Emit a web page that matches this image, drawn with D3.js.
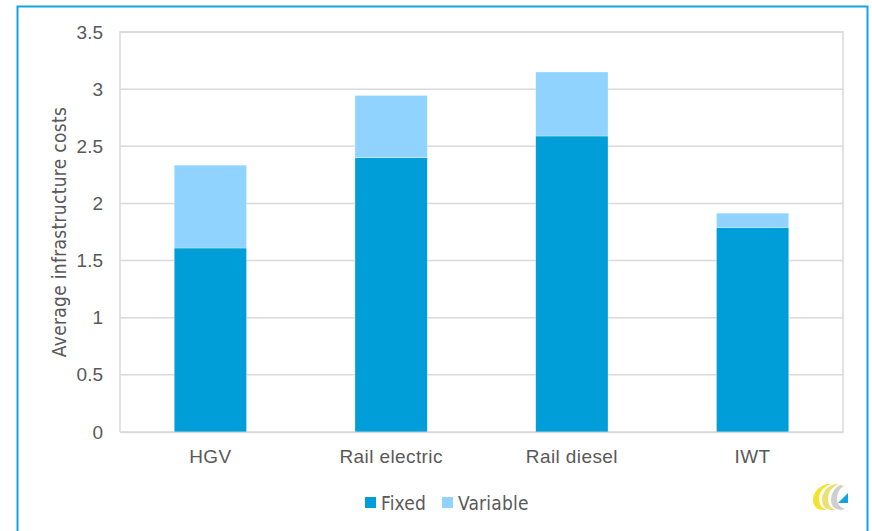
<!DOCTYPE html>
<html>
<head>
<meta charset="utf-8">
<script src="https://cdn.jsdelivr.net/npm/d3@7"></script>
<style>
  html, body { margin: 0; padding: 0; background: #fff; }
  svg { display: block; font-family: "DejaVu Sans Condensed", "DejaVu Sans", sans-serif; font-stretch: condensed; }
</style>
</head>
<body>
<svg id="chart" width="872" height="531"></svg>
<script>
// Average infrastructure costs per transport mode, split into fixed and variable parts
const categories = ["HGV", "Rail electric", "Rail diesel", "IWT"];
const fixedCosts = [1.61, 2.40, 2.59, 1.79];
const variableCosts = [0.725, 0.545, 0.56, 0.125];
const seriesNames = ["Fixed", "Variable"];
const yTicks = [0, 0.5, 1, 1.5, 2, 2.5, 3, 3.5];
const yLabel = "Average infrastructure costs";

const colors = { Fixed: "#009ed8", Variable: "#8fd3fe" };
const textColor = "#595959";
const gridColor = "#d9d9d9";
const fontSize = 19;

const svg = d3.select("#chart");
const W = 872, H = 531;
const m = { left: 120, top: 32, right: 843, bottom: 432 };

// outer frame (open at the bottom)
svg.append("path")
  .attr("d", `M17.5,${H + 2} V6.5 H867.5 V${H + 2}`)
  .attr("fill", "none")
  .attr("stroke", "#12a3e3")
  .attr("stroke-width", 2);

const x = d3.scaleBand().domain(categories).range([m.left, m.right]).paddingInner(0.6).paddingOuter(0.3);
const y = d3.scaleLinear().domain([0, 3.5]).range([m.bottom, m.top]);

const rows = categories.map((c, i) => ({ cat: c, Fixed: fixedCosts[i], Variable: variableCosts[i] }));
const stacked = d3.stack().keys(seriesNames)(rows);

// gridlines
svg.append("g").selectAll("line")
  .data(yTicks)
  .join("line")
  .attr("x1", m.left).attr("x2", m.right)
  .attr("y1", d => y(d)).attr("y2", d => y(d))
  .attr("stroke", gridColor).attr("stroke-width", 1.5);

// plot frame sides
svg.append("path")
  .attr("d", `M${m.left},${m.bottom} V${m.top} H${m.right} V${m.bottom}`)
  .attr("fill", "none").attr("stroke", gridColor).attr("stroke-width", 1.5);

// bars
svg.append("g").selectAll("g")
  .data(stacked)
  .join("g")
  .attr("fill", d => colors[d.key])
  .selectAll("rect")
  .data(d => d)
  .join("rect")
  .attr("x", d => x(d.data.cat))
  .attr("width", x.bandwidth())
  .attr("y", d => y(d[1]))
  .attr("height", d => y(d[0]) - y(d[1]))
  .attr("stroke", "rgba(255,255,255,0.5)")
  .attr("stroke-width", 0.6);

// y axis
const yAxis = svg.append("g")
  .attr("transform", `translate(${m.left},0)`)
  .call(d3.axisLeft(y).tickValues(yTicks).tickFormat(d3.format("")).tickSize(0).tickPadding(17));
yAxis.select(".domain").remove();
yAxis.selectAll("text").attr("fill", textColor).attr("font-size", fontSize);

// x axis
const xAxis = svg.append("g")
  .attr("transform", `translate(0,${m.bottom})`)
  .call(d3.axisBottom(x).tickSize(0).tickPadding(18));
xAxis.select(".domain").attr("stroke", gridColor).attr("stroke-width", 1.5);
xAxis.selectAll("text").attr("fill", textColor).attr("font-size", fontSize).attr("letter-spacing", 0.4);

// y label
svg.append("text")
  .attr("transform", `translate(66,${(m.top + m.bottom) / 2}) rotate(-90)`)
  .attr("text-anchor", "middle")
  .attr("fill", textColor)
  .attr("font-size", fontSize)
  .attr("letter-spacing", 0.3)
  .text(yLabel);

// legend
const legendItems = [{ name: "Fixed", x: 365 }, { name: "Variable", x: 442 }];
const lg = svg.append("g").selectAll("g").data(legendItems).join("g")
  .attr("transform", d => `translate(${d.x},497)`);
lg.append("rect").attr("width", 11).attr("height", 11).attr("fill", d => colors[d.name]);
lg.append("text").attr("x", 16).attr("y", 13).attr("fill", textColor).attr("font-size", fontSize)
  .attr("letter-spacing", 0.2)
  .text(d => d.name);

// small corner emblem
const logo = svg.append("g").attr("transform", "translate(812,483)");
logo.append("path")
  .attr("d", "M16,1 C7,2 1,10 1,17 C1,23 5,27 11,27 L15,27 C9,25 7,21 7,16 C7,9 11,4 19,1 Z")
  .attr("fill", "#f5e22a");
logo.append("path")
  .attr("d", "M24,1 C15,2 10,10 10,17 C10,23 14,27 20,27 L24,27 C18,25 16,21 16,16 C16,9 20,4 27,1 Z")
  .attr("fill", "#ebe070");
logo.append("path")
  .attr("d", "M28,2 C22,5 19,11 19,17 C19,23 23,27 29,27 L33,26 C28,24 25,21 25,16 C25,10 28,5 32,3 Z")
  .attr("fill", "#cfcfcf");
logo.append("path")
  .attr("d", "M26,20 L36,10 L36,20 Z")
  .attr("fill", "#12a3e3");
</script>
</body>
</html>
